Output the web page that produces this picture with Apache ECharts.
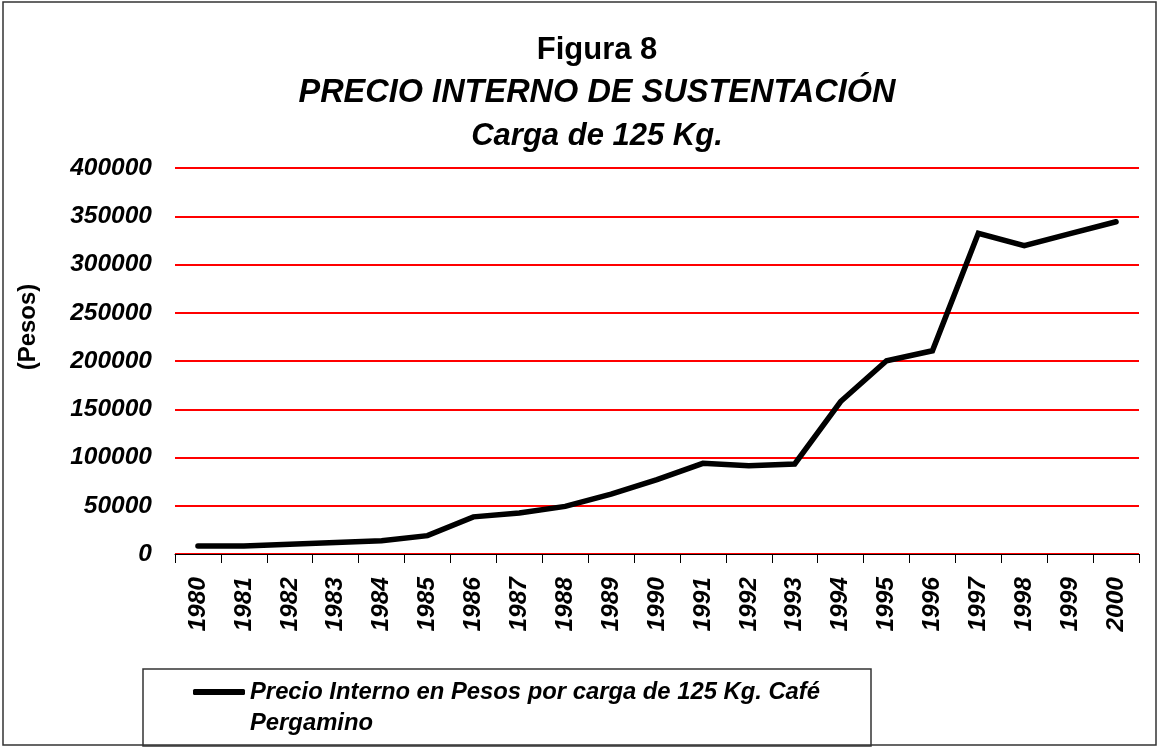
<!DOCTYPE html>
<html>
<head>
<meta charset="utf-8">
<script src="https://cdn.jsdelivr.net/npm/echarts@6/dist/echarts.min.js"></script>
<style>
  html, body { margin: 0; padding: 0; background: #fff; }
  #mainChart { width: 1158px; height: 747px; }
</style>
</head>
<body>
<div id="mainChart"></div>
<script>
var years = ['1980', '1981', '1982', '1983', '1984', '1985', '1986', '1987', '1988', '1989', '1990',
    '1991', '1992', '1993', '1994', '1995', '1996', '1997', '1998', '1999', '2000'];
// Precio interno, pesos por carga de 125 kg
var precio = [8200, 8200, 10000, 11800, 13800, 19000, 38500, 42500, 49300, 62000, 77000,
    94000, 91500, 93300, 158000, 200300, 210600, 332300, 319500, 332000, 344300];
var yTicks = { min: 0, max: 400000, step: 50000 };
var serieName = 'Precio Interno en Pesos por carga de 125 Kg. Café Pergamino';

var font = '"Liberation Sans", Arial, sans-serif';

var myChart = echarts.init(document.getElementById('mainChart'));

var option = {
    backgroundColor: '#fff',
    animation: false,
    title: {
        left: 592,
        top: 24,
        textAlign: 'center',
        text: '{a|Figura 8}\n{b|PRECIO INTERNO DE SUSTENTACIÓN}\n{c|Carga de 125 Kg.}',
        textStyle: {
            rich: {
                a: { fontFamily: font, fontSize: 31, fontWeight: 'bold', color: '#000', lineHeight: 43 },
                b: { fontFamily: font, fontSize: 32.5, fontWeight: 'bold', fontStyle: 'italic', color: '#000', lineHeight: 43 },
                c: { fontFamily: font, fontSize: 31, fontWeight: 'bold', fontStyle: 'italic', color: '#000', lineHeight: 43 }
            }
        }
    },
    grid: { left: 175, right: 19, top: 168, bottom: 193, containLabel: false },
    legend: {
        left: 193,
        top: 679,
        padding: 0,
        icon: 'roundRect',
        itemWidth: 52,
        itemHeight: 6,
        data: [serieName],
        formatter: function (name) {
            return 'Precio Interno en Pesos por carga de 125 Kg. Café';
        },
        textStyle: { fontFamily: font, fontSize: 23.8, fontWeight: 'bold', fontStyle: 'italic', color: '#000', lineHeight: 26 }
    },
    xAxis: {
        type: 'category',
        data: years,
        boundaryGap: true,
        axisLine: { lineStyle: { color: '#000', width: 1 } },
        axisTick: { show: true, length: 9, interval: 0, lineStyle: { color: '#000' } },
        axisLabel: {
            interval: 0,
            rotate: 90,
            margin: 23,
            fontFamily: font,
            fontSize: 24.5,
            fontWeight: 'bold',
            fontStyle: 'italic',
            color: '#000'
        }
    },
    yAxis: {
        type: 'value',
        min: yTicks.min,
        max: yTicks.max,
        interval: yTicks.step,
        axisLine: { show: false },
        axisTick: { show: false },
        splitLine: { lineStyle: { color: '#ff0000', width: 2 } },
        axisLabel: {
            margin: 23,
            formatter: function (v) { return String(v); },
            fontFamily: font,
            fontSize: 24.5,
            fontWeight: 'bold',
            fontStyle: 'italic',
            color: '#000'
        }
    },
    graphic: [
        {
            type: 'rect',
            shape: { x: 3, y: 2, width: 1153, height: 743 },
            style: { fill: 'none', stroke: '#333', lineWidth: 1.5 },
            silent: true
        },
        {
            type: 'rect',
            shape: { x: 143, y: 669, width: 728, height: 77 },
            style: { fill: 'none', stroke: '#333', lineWidth: 1.5 },
            silent: true
        },
        {
            type: 'text',
            left: 250,
            top: 711,
            style: { text: 'Pergamino', font: 'italic bold 23.8px ' + font, fill: '#000' },
            silent: true
        },
        {
            type: 'text',
            x: 28,
            y: 327,
            rotation: Math.PI / 2,
            style: { text: '(Pesos)', font: 'bold 24px ' + font, fill: '#000', align: 'center', verticalAlign: 'middle' },
            silent: true
        }
    ],
    series: [
        {
            name: serieName,
            type: 'line',
            data: precio,
            showSymbol: false,
            symbol: 'none',
            lineStyle: { color: '#000', width: 5.5, cap: 'round', join: 'miter' },
            itemStyle: { color: '#000' }
        }
    ]
};

myChart.setOption(option);
</script>
</body>
</html>
